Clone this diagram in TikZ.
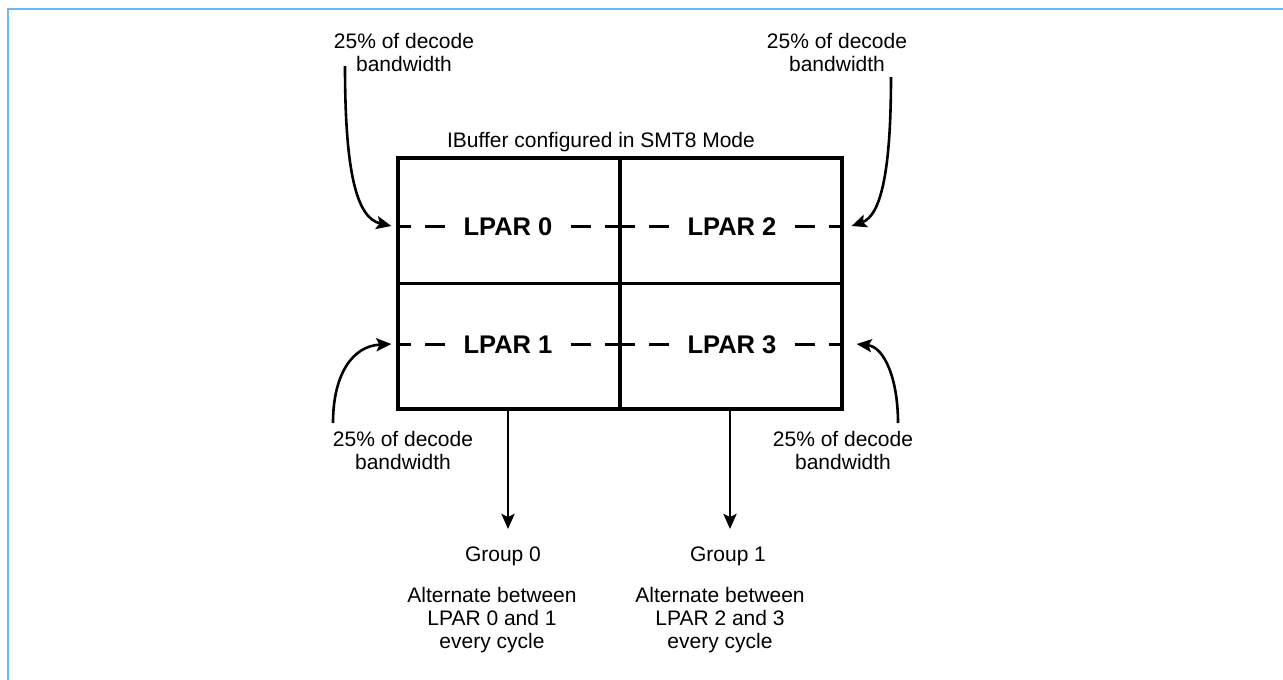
\documentclass[tikz,border=0pt]{standalone}
\usepackage{fontspec}
\setmainfont{Liberation Sans}
\usetikzlibrary{arrows.meta}
\definecolor{frameblue}{RGB}{102,187,245}
\begin{document}
\begin{tikzpicture}[x=1pt, y=-1pt,
  txt/.style={font=\fontsize{21}{23}\selectfont, align=center, inner sep=0pt, anchor=base},
  lpar/.style={font=\fontsize{25.5}{28}\selectfont\bfseries, text height=18.3pt, text depth=0pt,
               inner xsep=18pt, inner ysep=0pt, anchor=center},
  frameline/.style={line width=3.2pt},
  dashline/.style={line width=3pt, dash pattern=on 20pt off 14pt},
  tip/.style={-{Stealth[length=15pt,width=13pt,inset=3pt]}},
  feed/.style={line width=2.6pt, tip},
  outarrow/.style={line width=2.8pt, tip}]
  \useasboundingbox (0,0) rectangle (1283,680);

  % frame edges
  \draw[frameblue, line width=2pt] (8,680) -- (8,9) -- (1283,9);

  % IBuffer split into four LPAR quadrants
  \node[txt] (title) at (601,147) {IBuffer configured in SMT8 Mode};
  \node[draw, frameline, minimum width=444pt, minimum height=251pt, inner sep=0pt] (buf) at (620,283.5) {};
  \draw[frameline] (buf.north) -- (buf.south);
  \draw[frameline] (buf.west) -- (buf.east);

  \node[lpar] (l0) at (508,226) {LPAR 0};
  \node[lpar] (l1) at (508,344) {LPAR 1};
  \node[lpar] (l2) at (732,226) {LPAR 2};
  \node[lpar] (l3) at (732,344) {LPAR 3};

  \foreach \n in {l0,l1} {
    \draw[dashline] (\n.west) -- (\n.west -| buf.west);
    \draw[dashline] (\n.east) -- (\n.east -| buf.north);
  }
  \foreach \n in {l2,l3} {
    \draw[dashline] (\n.west) -- (\n.west -| buf.north);
    \draw[dashline] (\n.east) -- (\n.east -| buf.east);
  }

  % decode bandwidth shares (anchored on the last line's baseline)
  \node[txt] (bwTL) at (404,71) {25\% of decode\\bandwidth};
  \node[txt] (bwTR) at (837,71) {25\% of decode\\bandwidth};
  \node[txt] (bwBL) at (403,469) {25\% of decode\\bandwidth};
  \node[txt] (bwBR) at (843,469) {25\% of decode\\bandwidth};

  \coordinate (sTL) at (345,66);
  \coordinate (sTR) at (891,77);
  \coordinate (sBL) at (333,423);
  \coordinate (sBR) at (898,423);
  \coordinate (eTL) at ([xshift=-5pt]buf.west |- l0.west);
  \coordinate (eTR) at ([xshift=8pt]buf.east |- l2.east);
  \coordinate (eBL) at ([xshift=-5pt]buf.west |- l1.west);
  \coordinate (eBR) at ([xshift=13pt]buf.east |- l3.east);

  \draw[feed] (sTL) .. controls (345,170) and (356,218) .. (eTL);
  \draw[feed] (sTR) .. controls (891,175) and (880,216) .. (eTR);
  \draw[feed] (sBL) .. controls (333,375) and (352,346) .. (eBL);
  \draw[feed] (sBR) .. controls (898,378) and (884,347) .. (eBR);

  % decode groups
  \coordinate (g0tip) at (508,529);
  \coordinate (g1tip) at (730,529);
  \draw[outarrow] (g0tip |- buf.south) -- (g0tip);
  \draw[outarrow] (g1tip |- buf.south) -- (g1tip);

  \node[txt] (grp0) at (503,561) {Group 0};
  \node[txt] (grp1) at (728,561) {Group 1};
  \node[txt] (alt0) at (492,648) {Alternate between\\LPAR 0 and 1\\every cycle};
  \node[txt] (alt1) at (720,648) {Alternate between\\LPAR 2 and 3\\every cycle};
\end{tikzpicture}
\end{document}
